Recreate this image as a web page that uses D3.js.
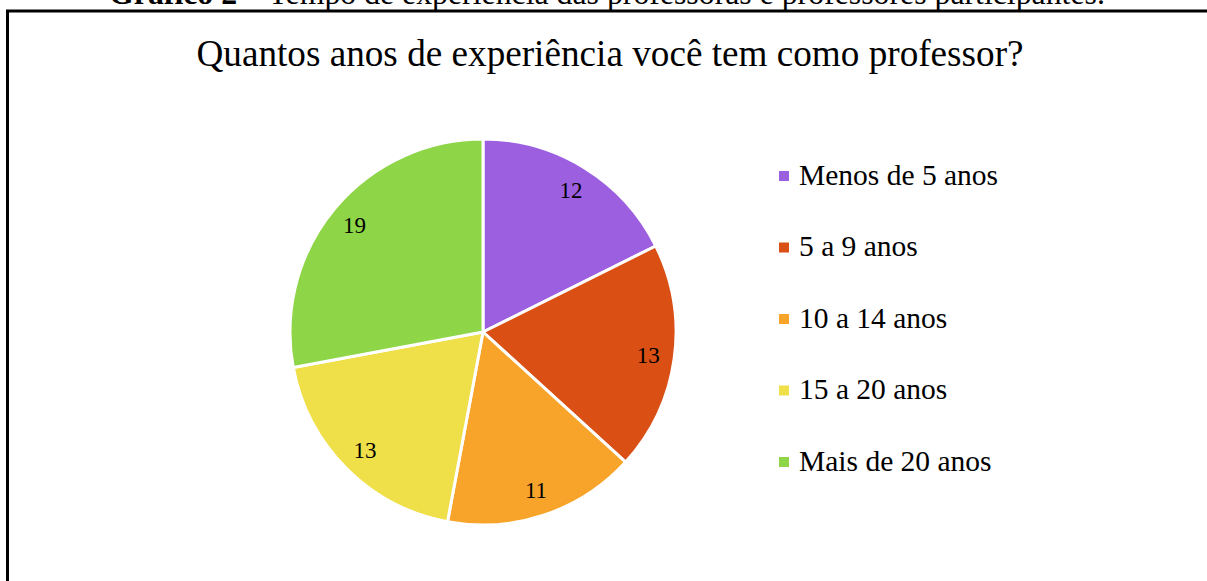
<!DOCTYPE html>
<html>
<head>
<meta charset="utf-8">
<script src="https://cdn.jsdelivr.net/npm/d3@7"></script>
<style>
  body { margin: 0; background: #fff; }
  svg { display: block; font-family: "Liberation Serif", "Times New Roman", serif; }
</style>
</head>
<body>
<svg id="chart"></svg>
<script>
let categories = ['Menos de 5 anos', '5 a 9 anos', '10 a 14 anos', '15 a 20 anos', 'Mais de 20 anos']
let values = [12, 13, 11, 13, 19]
let colors = ['#9b5fe0', '#d94f14', '#f8a42a', '#efdf48', '#8ed547']

let title = 'Quantos anos de experiência você tem como professor?'
let captionBold = 'Gráfico 2'
let captionRest = ' – Tempo de experiência das professoras e professores participantes.'

let width = 1207
let height = 581
let cx = 483
let cy = 332
let radius = 193

let svg = d3.select('#chart')
    .attr('width', width)
    .attr('height', height)

// figure caption, cut off at the top of the page
let cap = svg.append('text')
    .attr('x', 607)
    .attr('y', 4)
    .attr('text-anchor', 'middle')
    .attr('font-size', 31.8)
    .attr('fill', '#000')
cap.append('tspan').attr('font-weight', 'bold').text(captionBold)
cap.append('tspan').text(captionRest)

// frame
svg.append('path')
    .attr('d', 'M7.5,' + height + ' V11 H' + width)
    .attr('fill', 'none')
    .attr('stroke', '#000')
    .attr('stroke-width', 3)

svg.append('text')
    .attr('x', 610)
    .attr('y', 66)
    .attr('text-anchor', 'middle')
    .attr('font-size', 37.2)
    .attr('fill', '#000')
    .text(title)

let pie = d3.pie().sort(null).value((d) => d)
let arcs = pie(values)
let arc = d3.arc().innerRadius(0).outerRadius(radius)
let labelArc = d3.arc().innerRadius(radius * 0.865).outerRadius(radius * 0.865)

let g = svg.append('g').attr('transform', 'translate(' + cx + ',' + cy + ')')

g.selectAll('path')
    .data(arcs)
    .enter()
    .append('path')
    .attr('d', arc)
    .attr('fill', (d, i) => colors[i])
    .attr('stroke', '#fff')
    .attr('stroke-width', 3)
    .attr('stroke-linejoin', 'round')

g.selectAll('text.val')
    .data(arcs)
    .enter()
    .append('text')
    .attr('class', 'val')
    .attr('transform', (d) => 'translate(' + labelArc.centroid(d) + ')')
    .attr('text-anchor', 'middle')
    .attr('dy', '0.35em')
    .attr('font-size', 23)
    .attr('fill', '#000')
    .text((d) => d.data)

let legendY = d3.scalePoint()
    .domain(categories)
    .range([176, 462])

let legend = svg.append('g')
    .selectAll('g')
    .data(categories)
    .enter()
    .append('g')
    .attr('transform', (d) => 'translate(779,' + legendY(d) + ')')

legend.append('rect')
    .attr('x', 0)
    .attr('y', -5)
    .attr('width', 10)
    .attr('height', 10)
    .attr('fill', (d, i) => colors[i])

legend.append('text')
    .attr('x', 20)
    .attr('y', 8.5)
    .attr('font-size', 29.5)
    .attr('fill', '#000')
    .text((d) => d)
</script>
</body>
</html>
